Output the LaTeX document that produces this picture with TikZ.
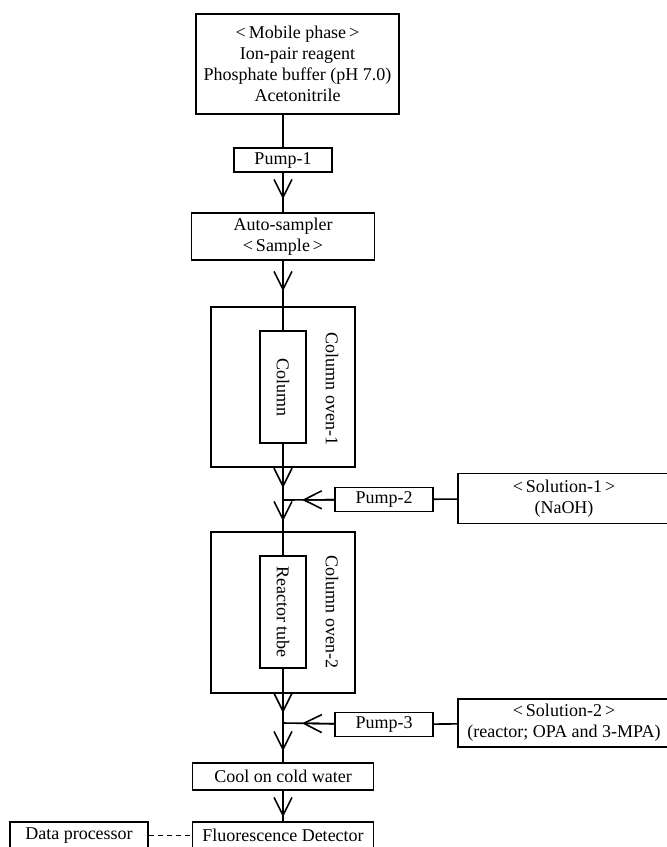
\documentclass[tikz,border=0pt]{standalone}
\usepackage{fontspec}
\setmainfont{Liberation Serif}
\usetikzlibrary{arrows.meta}

\begin{document}
\begin{tikzpicture}[
    x=0.5pt, y=-0.5pt,
    font=\fontsize{9}{10.5}\selectfont,
    box/.style={rectangle, draw, line width=0.8pt, align=center, inner sep=0pt},
    rbox/.style={box, rotate=-90, minimum width=56pt, minimum height=23pt},
    oven/.style={box, minimum width=72pt, minimum height=80pt},
    pump/.style={box, minimum width=49pt, minimum height=12pt},
    pipe/.style={line width=0.8pt},
    flow/.style={pipe, -{Straight Barb[length=9pt, width=9pt]}},
    lab/.style={rotate=-90, inner sep=0pt}
  ]
    \useasboundingbox (0,0) rectangle (667,847);

    \node[box, minimum width=101.5pt, minimum height=50pt] (mobile) at (297.5,64)
      {<\,Mobile phase\,>\\Ion-pair reagent\\Phosphate buffer (pH 7.0)\\Acetonitrile};
    \node[pump] (pump1) at (283,160) {Pump-1};
    \node[box, minimum width=91.5pt, minimum height=23.5pt] (sampler) at (283,236.5)
      {Auto-sampler\\<\,Sample\,>};

    \node[oven] (oven1) at (283,387) {};
    \node[rbox] (col1) at (283,387) {Column};
    \node[lab] (oven1lbl) at (332,389) {Column oven-1};

    \coordinate (j1) at (283,500);
    \node[pump] (pump2) at (384,499.5) {Pump-2};
    \node[box, minimum width=106pt, minimum height=25pt] (sol1) at (564,498.5)
      {<\,Solution-1\,>\\(NaOH)};

    \node[oven, minimum height=80.5pt] (oven2) at (283,612.5) {};
    \node[rbox] (col2) at (283,612) {Reactor tube};
    \node[lab] (oven2lbl) at (332,612) {Column oven-2};

    \coordinate (j2) at (283,723);
    \node[pump] (pump3) at (384,724.5) {Pump-3};
    \node[box, minimum width=106pt, minimum height=24pt] (sol2) at (564,723)
      {<\,Solution-2\,>\\(reactor; OPA and 3-MPA)};

    \node[box, minimum width=90.5pt, minimum height=13.5pt] (cool) at (283,776.5) {Cool on cold water};
    \node[box, minimum width=90.5pt, minimum height=13.5pt] (fluor) at (283,835.5) {Fluorescence Detector};
    \node[box, minimum width=69pt, minimum height=13.5pt] (dataproc) at (79,835.5) {Data processor};

    % main line
    \draw[pipe] (pump1 |- mobile.south) -- (pump1);
    \draw[pipe] (pump1) -- (sampler);
    \draw[flow, shorten >=6.5pt] (pump1) -- (sampler);
    \draw[pipe] (sampler) -- (col1);
    \draw[flow, shorten >=7.5pt] (sampler) -- (oven1);
    \draw[pipe] (col1) -- (j1) -- (col2);
    \draw[flow, shorten >=6pt] (col1) -- (j1);
    \draw[flow, shorten >=5pt] (j1) -- (oven2);
    \draw[pipe] (col2) -- (j2) -- (cool);
    \draw[flow, shorten >=5pt] (col2) -- (j2);
    \draw[flow, shorten >=5.5pt] (j2) -- (cool);
    \draw[pipe] (cool) -- (fluor);
    \draw[flow, shorten >=2pt] (cool) -- (fluor);

    % side feeds
    \draw[pipe] (sol1) -- (pump2);
    \draw[pipe] (pump2) -- (j1);
    \draw[flow, shorten >=9.5pt] (pump2) -- (j1);
    \draw[pipe] (sol2) -- (pump3);
    \draw[pipe] (pump3) -- (j2);
    \draw[flow, shorten >=9.5pt] (pump3) -- (j2);

    \draw[pipe, dash pattern=on 2.5pt off 2pt] (dataproc) -- (fluor);
  \end{tikzpicture}
\end{document}
